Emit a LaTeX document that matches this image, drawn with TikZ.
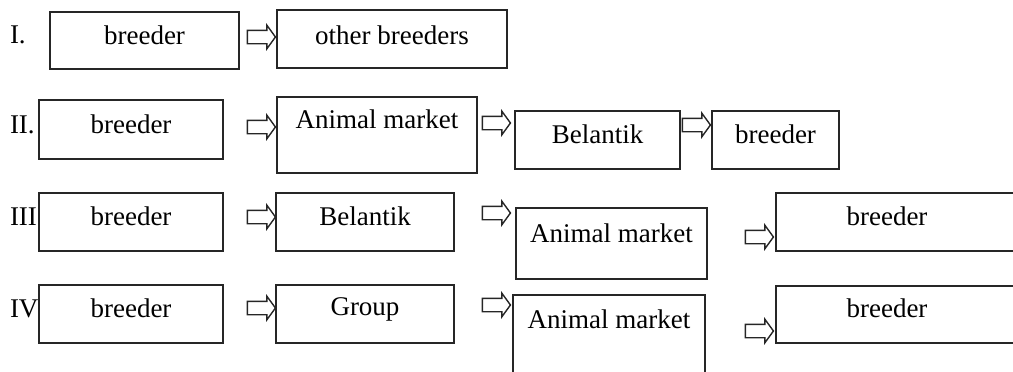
\documentclass[tikz,border=0pt]{standalone}
\usepackage{fontspec}
\setmainfont{Liberation Serif}
\usetikzlibrary{shapes,shapes.arrows,calc,positioning}

\begin{document}
\begin{tikzpicture}[x=1pt,y=-1pt,
      every node/.style={font=\fontsize{27}{32}\selectfont, inner sep=0pt, outer sep=0pt},
      box/.style={draw=black!85, rectangle, line width=1.4pt, anchor=base west},
      flow/.style={draw=black!85, single arrow, line width=1.4pt, minimum height=28pt, text height=6pt, text depth=6pt, single arrow head extend=5pt, single arrow tip angle=108},
      num/.style={anchor=base west}]
      \useasboundingbox (0,0) rectangle (1013,372);
      \node[num] (n1) at (10,43) {I.};
      \node[num] (n2) at (10,133) {II.};
      \node[num] (n3) at (10,225) {III};
      \node[num] (n4) at (10,317) {IV};
      \node[box, minimum width=189pt, text height=33pt, text depth=24pt] (a) at (50,45) {breeder};
      \node[flow] (a1) at (259,37) {};
      \node[box, minimum width=230pt, text height=34pt, text depth=24pt] (b) at (277,44) {other breeders};
      \node[box, minimum width=184pt, text height=33pt, text depth=26pt] (c) at (39,133) {breeder};
      \node[flow] (c1) at (259,127) {};
      \node[box, minimum width=200pt, text height=31pt, text depth=45pt] (d) at (277,128) {Animal market};
      \node[flow] (d1) at (494,123) {};
      \node[box, minimum width=165pt, text height=32pt, text depth=26pt] (e) at (515,143) {Belantik};
      \node[flow] (e1) at (694,125) {};
      \node[box, minimum width=127pt, text height=32pt, text depth=26pt] (f) at (712,143) {breeder};
      \node[box, minimum width=184pt, text height=32pt, text depth=26pt] (g) at (39,225) {breeder};
      \node[flow] (g1) at (259,217) {};
      \node[box, minimum width=178pt, text height=32pt, text depth=26pt] (h) at (276,225) {Belantik};
      \node[flow] (h1) at (494,213) {};
      \node[box, minimum width=191pt, text height=34pt, text depth=37pt] (i) at (516,242) {Animal market};
      \node[flow] (i1) at (757,237) {};
      \node[box, minimum width=240pt, text height=32pt, text depth=26pt] (j) at (776,225) {breeder\hspace*{18pt}};
      \node[box, minimum width=184pt, text height=32pt, text depth=26pt] (k) at (39,317) {breeder};
      \node[flow] (k1) at (259,308) {};
      \node[box, minimum width=178pt, text height=30pt, text depth=28pt] (l) at (276,315) {Group};
      \node[flow] (l1) at (494,305) {};
      \node[box, minimum width=192pt, text height=33pt, text depth=80pt] (m) at (513,328) {Animal market};
      \node[flow] (m1) at (757,331) {};
      \node[box, minimum width=240pt, text height=31pt, text depth=26pt] (o) at (776,317) {breeder\hspace*{18pt}};
      \end{tikzpicture}
\end{document}
